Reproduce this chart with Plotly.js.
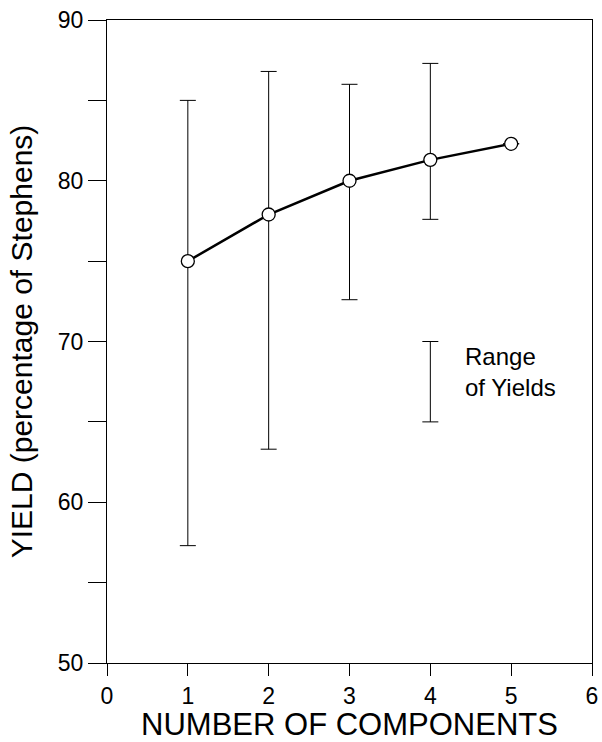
<!DOCTYPE html>
<html>
<head>
<meta charset="utf-8">
<script src="https://cdn.plot.ly/plotly-3.0.1.min.js"></script>
<style>html,body{margin:0;padding:0;background:#fff;}#chart{width:602px;height:742px;}</style>
</head>
<body>
<div id="chart"></div>
<script>
// Data
const components = [1, 2, 3, 4, 5];
const meanYield = [75.0, 77.9, 80.0, 81.3, 82.3];
const yieldMax = [85.0, 86.8, 86.0, 87.3, 82.3];
const yieldMin = [57.3, 63.3, 72.6, 77.6, 82.3];
const legendX = [4];
const legendTop = [70];
const legendBottom = [65];
const legendLabel = "Range<br>of Yields";
const xTicks = [0, 1, 2, 3, 4, 5, 6];
const yTicks = [50, 60, 70, 80, 90];

const errPlus = yieldMax.map((v, i) => v - meanYield[i]);
const errMinus = meanYield.map((v, i) => v - yieldMin[i]);
const FONT = "Liberation Sans, Arial, Helvetica, sans-serif";

const traces = [
  {
    x: components, y: meanYield, type: "scatter", mode: "lines+markers",
    line: {color: "#000", width: 2.5},
    marker: {symbol: "circle", size: 13, color: "#fff", line: {color: "#000", width: 1.3}},
    error_y: {type: "data", symmetric: false, array: errPlus, arrayminus: errMinus,
              color: "#000", thickness: 1, width: 8},
    showlegend: false, hoverinfo: "x+y"
  },
  {
    x: legendX, y: legendTop, type: "scatter", mode: "markers",
    marker: {size: 1, color: "rgba(0,0,0,0)"},
    error_y: {type: "data", symmetric: false, array: [0],
              arrayminus: legendTop.map((v, i) => v - legendBottom[i]),
              color: "#000", thickness: 1, width: 8},
    showlegend: false, hoverinfo: "skip"
  }
];

const layout = {
  width: 602, height: 742,
  margin: {l: 107, r: 10, t: 20, b: 79},
  paper_bgcolor: "#fff", plot_bgcolor: "#fff",
  font: {family: FONT, color: "#000"},
  showlegend: false,
  xaxis: {
    range: [0, 6], tickvals: xTicks, ticks: "outside", ticklen: 12, tickwidth: 1, tickcolor: "#000",
    showline: true, linecolor: "#000", linewidth: 1, mirror: true, showgrid: false, zeroline: false,
    tickfont: {family: FONT, size: 23, color: "#000"},
    title: {text: "NUMBER OF COMPONENTS", font: {family: FONT, size: 31, color: "#000"}, standoff: 7}
  },
  yaxis: {
    range: [50, 90], tickvals: yTicks, ticks: "outside", ticklen: 18, tickwidth: 1, tickcolor: "#000",
    minor: {dtick: 5, tick0: 55, ticks: "outside", ticklen: 18, tickwidth: 1, tickcolor: "#000", showgrid: false},
    showline: true, linecolor: "#000", linewidth: 1, mirror: true, showgrid: false, zeroline: false,
    tickfont: {family: FONT, size: 23, color: "#000"},
    title: {text: "YIELD (percentage of Stephens)", font: {family: FONT, size: 30, color: "#000"}, standoff: 16}
  },
  annotations: [
    {x: 4.4, y: 68.1, xref: "x", yref: "y", text: legendLabel, showarrow: false,
     xanchor: "left", yanchor: "middle", align: "left",
     font: {family: FONT, size: 24, color: "#000"}}
  ]
};

Plotly.newPlot("chart", traces, layout, {displayModeBar: false, staticPlot: true});
</script>
</body>
</html>
